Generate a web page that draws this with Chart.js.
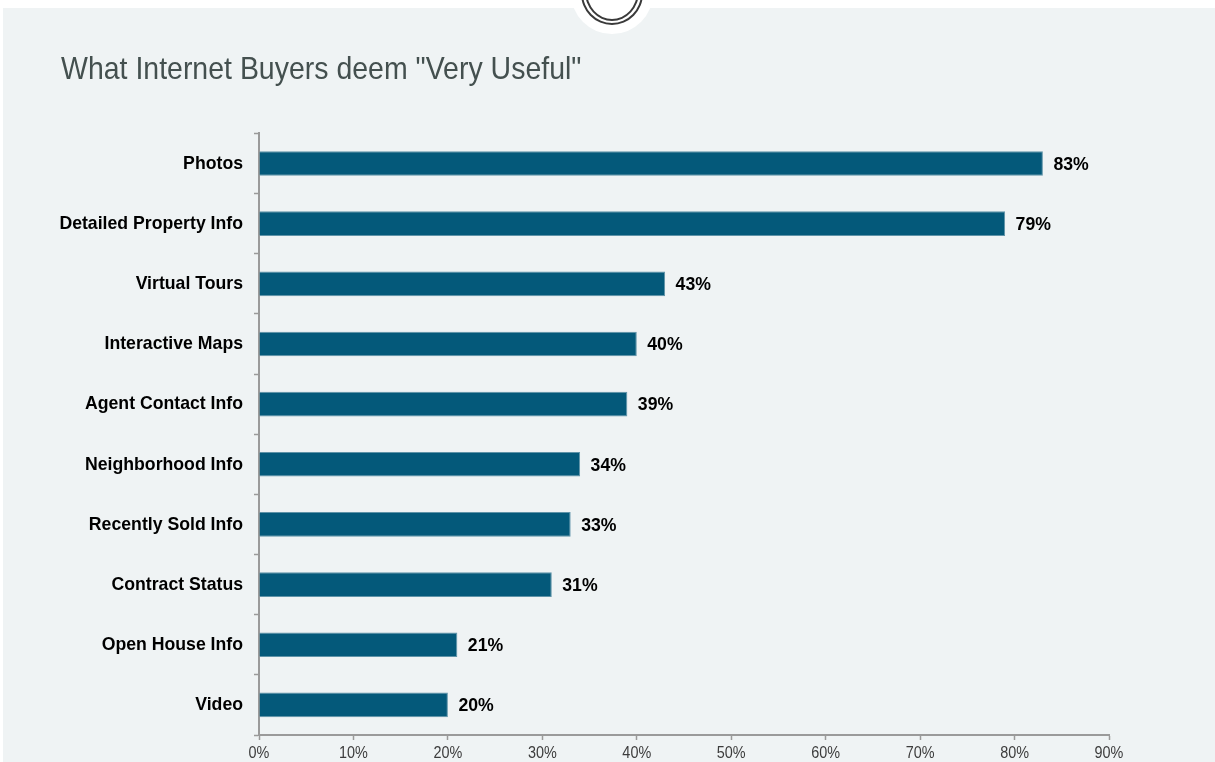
<!DOCTYPE html>
<html><head><meta charset="utf-8">
<style>
html,body{margin:0;padding:0;background:#fff;overflow:hidden}
#panel{position:absolute;left:3px;top:8px;width:1212px;height:754px;background:#eff3f4}
.c{position:absolute;border-radius:50%;box-sizing:border-box}
#w{left:571px;top:-48px;width:82px;height:82px;background:#fff}
#r1{left:581px;top:-38px;width:62px;height:63px;border:2px solid #3a3a3a}
#r2{left:585px;top:-38px;width:54px;height:59px;border:2px solid #3a3a3a}
#wrap{position:absolute;left:0;top:0;width:1215px;height:762px}
</style></head><body>
<div id="panel"></div>
<div class="c" id="w"></div><div class="c" id="r1"></div><div class="c" id="r2"></div>
<div id="wrap"><canvas id="chart"></canvas></div>
<script src="https://cdn.jsdelivr.net/npm/chart.js@4"></script>
<script>
const categories=["Photos","Detailed Property Info","Virtual Tours","Interactive Maps","Agent Contact Info","Neighborhood Info","Recently Sold Info","Contract Status","Open House Info","Video"];
const values=[83,79,43,40,39,34,33,31,21,20];
const chartTitle='What Internet Buyers deem "Very Useful"';
const FONT='"Liberation Sans", Arial, sans-serif';
// The reference's text is slightly condensed: squeeze each string horizontally around its anchor.
const squeeze={id:'squeeze',
  afterLayout(chart){chart.scales.y.left-=30;},
  beforeDraw(chart){
    const ctx=chart.ctx;
    if(ctx._squeezed)return;
    ctx._squeezed=true;
    const orig=ctx.fillText;
    ctx.fillText=function(t,x,y,m){
      const f=this.font;
      const sx=f.includes('32px')?0.89:f.includes('16px')?0.9:0.93;
      this.save();this.translate(x,y);this.scale(sx,1);orig.call(this,t,0,0);this.restore();
    };
  }};
const valueLabels={id:'valueLabels',afterDatasetsDraw(chart){
  const ctx=chart.ctx,meta=chart.getDatasetMeta(0);
  ctx.save();ctx.font='bold 19px '+FONT;ctx.fillStyle='#000';ctx.textAlign='left';ctx.textBaseline='middle';
  meta.data.forEach((b,i)=>{ctx.fillText(values[i]+'%',b.x+10.5,b.y+1);});
  ctx.restore();
}};
new Chart(document.getElementById('chart'),{
  type:'bar',
  data:{labels:categories,datasets:[{data:values,backgroundColor:'#04597a',borderColor:'#5f93a8',borderWidth:1,barPercentage:0.41,categoryPercentage:1}]},
  plugins:[squeeze,valueLabels],
  options:{
    indexAxis:'y',responsive:true,maintainAspectRatio:false,animation:false,
    layout:{padding:{left:61,right:106,top:51,bottom:0}},
    plugins:{legend:{display:false},tooltip:{enabled:false},
      title:{display:true,text:chartTitle,align:'start',color:'#44504f',font:{family:FONT,size:32,weight:'normal'},padding:{top:0,bottom:44}}},
    scales:{
      x:{type:'linear',min:0,max:90,
        afterFit(s){s.height=27},
        border:{color:'#9a9a9a',width:2},
        grid:{drawOnChartArea:false,tickLength:5,color:'#9a9a9a',tickWidth:1.5},
        ticks:{stepSize:10,maxRotation:0,padding:4,color:'#3c3c3c',font:{family:FONT,size:16},callback:v=>v+'%'}},
      y:{type:'category',
        afterFit(s){s.width=198},
        border:{color:'#9a9a9a',width:2},
        grid:{drawOnChartArea:false,tickLength:5,color:'#9a9a9a',tickWidth:1.5},
        ticks:{padding:11,color:'#000',font:{family:FONT,size:19,weight:'bold'},autoSkip:false}}
    }
  }
});
</script></body></html>
